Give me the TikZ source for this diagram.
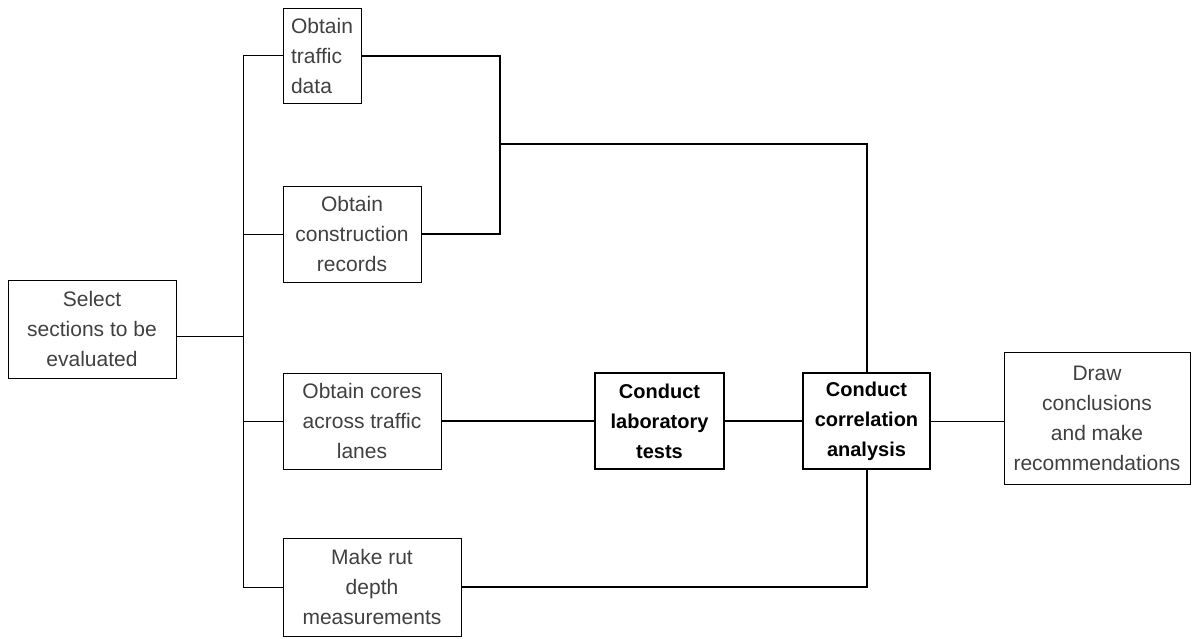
\documentclass[tikz,border=0pt]{standalone}
\usepackage{fontspec}
\setmainfont{Liberation Sans}
\usetikzlibrary{calc}
\tikzset{
  lightbox/.style={draw=black, line width=1pt, inner sep=2pt, text=black!75,
    font=\fontsize{21}{30}\selectfont, align=center},
  boldbox/.style={draw=black, line width=2pt, inner sep=2pt, text=black,
    font=\fontsize{20}{30}\selectfont\bfseries, align=center},
  thinline/.style={draw=black, line width=1pt},
  thickline/.style={draw=black, line width=2pt},
}
\begin{document}
\begin{tikzpicture}[x=1pt,y=-1pt]
\useasboundingbox (0,0) rectangle (1196,638);
% nodes
\node[lightbox, minimum width=168pt, minimum height=98pt] (sel) at (92,329) {Select\\sections to be\\evaluated};
\node[lightbox, minimum width=78pt, minimum height=95pt, align=left] (traf) at (322,55.5) {Obtain\\traffic\\data};
\node[lightbox, minimum width=138pt, minimum height=96pt] (cons) at (352,234) {Obtain\\construction\\records};
\node[lightbox, minimum width=158pt, minimum height=96pt] (cores) at (362,421) {Obtain cores\\across traffic\\lanes};
\node[lightbox, minimum width=178pt, minimum height=98pt] (rut) at (372,587) {Make rut\\depth\\measurements};
\node[boldbox, line width=1.2pt, minimum width=129pt, minimum height=96pt] (lab) at (659.5,421) {Conduct\\laboratory\\tests};
\node[boldbox, minimum width=127pt, minimum height=96pt] (corr) at (866.5,421) {Conduct\\correlation\\analysis};
\node[lightbox, minimum width=186pt, minimum height=132pt] (concl) at (1097,418) {Draw\\conclusions\\and make\\recommendations};
% junction coordinates
\coordinate (ttop) at (243,55.5);
\coordinate (tcons) at (243,234);
\coordinate (tcores) at (243,421);
\coordinate (tbot) at (243,587);
\coordinate (tsel) at (243,336);
\coordinate (rtop) at (500,55.5);
\coordinate (rbot) at (500,234);
\coordinate (rmid) at (500,144);
\coordinate (cup) at (866.5,144);
\coordinate (cdown) at (866.5,587);
% connectors
\draw[thinline] (ttop) -- (tbot);
\draw[thinline] (sel.east |- tsel) -- (tsel);
\draw[thinline] (ttop) -- (traf.west);
\draw[thinline] (tcons) -- (cons.west);
\draw[thinline] (tcores) -- (cores.west);
\draw[thinline] (tbot) -- (rut.west);
\draw[thickline] (traf.east) -- (rtop) -- (rbot) -- (cons.east);
\draw[thickline] (rmid) -- (cup) -- (corr.north);
\draw[thickline] (cores.east) -- (lab.west);
\draw[thickline] (lab.east) -- (corr.west);
\draw[thinline] (corr.east) -- (corr.east -| concl.west);
\draw[thickline] (rut.east) -- (cdown) -- (corr.south);
\end{tikzpicture}
\end{document}
